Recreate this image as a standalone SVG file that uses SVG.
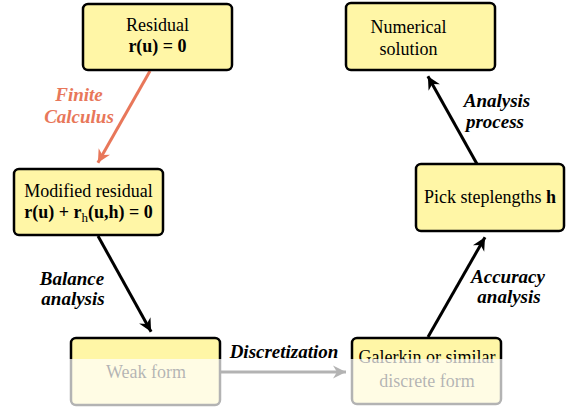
<svg xmlns="http://www.w3.org/2000/svg" width="570" height="409" viewBox="0 0 570 409">
<style>
.box{fill:#fff6a6;stroke:#000;stroke-width:2.5}
.t{font-family:"Liberation Serif","Times New Roman",serif;font-size:18px;text-anchor:middle;fill:#000}
.b{font-weight:bold}
.lab{font-family:"Liberation Serif","Times New Roman",serif;font-size:19px;font-weight:bold;font-style:italic;text-anchor:middle;fill:#000}
.edge{fill:none;stroke:#000;stroke-width:3}
</style>
<defs>
<marker id="ah" markerUnits="userSpaceOnUse" markerWidth="16" markerHeight="16" viewBox="-14 -8 16 16" refX="0" refY="0" orient="auto">
<path d="M0,0 L-13,-6.5 L-9,0 L-13,6.5 Z" fill="#000"/>
</marker>
<marker id="ahr" markerUnits="userSpaceOnUse" markerWidth="16" markerHeight="16" viewBox="-14 -8 16 16" refX="0" refY="0" orient="auto">
<path d="M0,0 L-13,-6.5 L-9,0 L-13,6.5 Z" fill="#e8775a"/>
</marker>
</defs>
<g id="connectors">
<line class="edge" x1="150" y1="71" x2="97.9" y2="162.8" style="stroke:#e8775a" marker-end="url(#ahr)"/>
<text class="lab" x="79" y="101" style="fill:#e8775a">Finite</text>
<text class="lab" x="79" y="123" style="fill:#e8775a">Calculus</text>
<line class="edge" x1="98" y1="236" x2="151.1" y2="331.8" marker-end="url(#ah)"/>
<text class="lab" x="72" y="285">Balance</text>
<text class="lab" x="73" y="305">analysis</text>
<line class="edge" x1="221" y1="372" x2="346" y2="372" marker-end="url(#ah)"/>
<text class="lab" x="284" y="358">Discretization</text>
<line class="edge" x1="428" y1="337" x2="485" y2="237.2" marker-end="url(#ah)"/>
<text class="lab" x="508" y="283">Accuracy</text>
<text class="lab" x="509" y="303">analysis</text>
<line class="edge" x1="477" y1="164" x2="427.9" y2="76.2" marker-end="url(#ah)"/>
<text class="lab" x="497" y="107">Analysis</text>
<text class="lab" x="495" y="128">process</text>
</g>
<g id="residual">
<rect class="box" x="83" y="4" width="149" height="66" rx="5"/>
<text class="t" x="157.5" y="31">Residual</text>
<text class="t b" x="157.5" y="52">r(u) = 0</text>
</g>
<g id="modified">
<rect class="box" x="14" y="169" width="149" height="66" rx="5"/>
<text class="t" x="88.5" y="197">Modified residual</text>
<text class="t b" x="88.5" y="218">r(u) + r<tspan font-size="13" font-weight="normal" dy="4">h</tspan><tspan dy="-4">(u,h) = 0</tspan></text>
</g>
<g id="numerical">
<rect class="box" x="346" y="3" width="149" height="67" rx="5"/>
<text class="t" x="408.5" y="33">Numerical</text>
<text class="t" x="408.5" y="55">solution</text>
</g>
<g id="pick">
<rect class="box" x="416" y="164" width="148" height="67" rx="5"/>
<text class="t" x="490" y="203">Pick steplengths <tspan font-weight="bold">h</tspan></text>
</g>
<g id="weak">
<rect class="box" x="71" y="338" width="149" height="67" rx="5"/>
<text class="t" x="146" y="378">Weak form</text>
</g>
<g id="galerkin">
<rect class="box" x="352" y="338" width="149" height="66" rx="5"/>
<text class="t" x="427" y="363">Galerkin or similar</text>
<text class="t" x="427" y="387">discrete form</text>
</g>
<rect x="0" y="359" width="570" height="50" fill="#fff" fill-opacity="0.7"/>
</svg>
